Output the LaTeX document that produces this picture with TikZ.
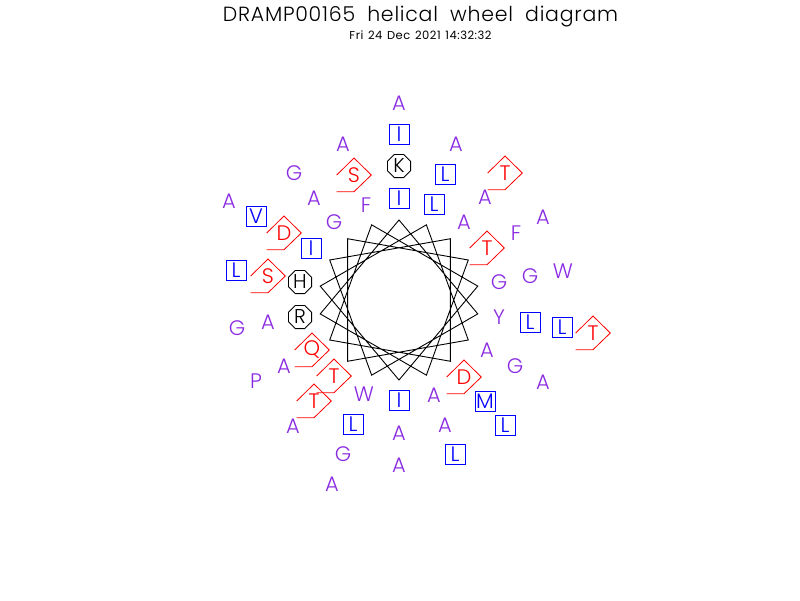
\documentclass[tikz,border=0pt]{standalone}
\usepackage{fontspec}
\usetikzlibrary{shapes.geometric}
\setmainfont{Poppins Light}
\newfontfamily\titlefont[LetterSpace=3.7,WordSpace=1.9]{Poppins Light}
\newfontfamily\stampfont[LetterSpace=4.5,WordSpace=1.3]{Poppins}
\definecolor{respurple}{HTML}{8A2BE2}
\tikzset{
  reslabel/.style={inner sep=0pt,font=\fontsize{21}{21}\selectfont},
  plainres/.style={reslabel,text=respurple},
  boxres/.style={reslabel,text=blue,draw=blue,line width=0.9pt,minimum size=20pt,shape=rectangle,font=\fontsize{21}{21}\selectfont},
  octres/.style={reslabel,text=black,draw=black,line width=0.9pt,shape=regular polygon,regular polygon sides=8,minimum size=25pt,font=\fontsize{20}{20}\selectfont},
  pentres/.style={reslabel,text=red},
  pentline/.style={draw=red,line width=0.8pt},
  starline/.style={draw=black,line width=0.9pt,line join=miter},
}
\newcommand{\plainr}[4]{\node[plainres] (#1) at (#2,#3) {#4};}
\newcommand{\boxr}[4]{\node[boxres] (#1) at (#2,#3) {#4};}
\newcommand{\octr}[4]{\node[octres] (#1) at (#2,#3) {#4};}
\newcommand{\pentr}[4]{\node[pentres] (#1) at (#2,#3) {#4};
  \draw[pentline] ([shift={(-17.3,0)}]#1.center) -- ([shift={(0,-17)}]#1.center) -- ([shift={(17.3,0)}]#1.center) -- ([shift={(0,16.7)}]#1.center) -- ([shift={(-17.3,16.7)}]#1.center);}
\begin{document}
\begin{tikzpicture}[x=1pt,y=-1pt]
\useasboundingbox (0,0) rectangle (800,600);
\node[inner sep=0pt,font=\titlefont\fontsize{20.5}{20.5}\selectfont] (title) at (420.5,17) {DRAMP00165 helical wheel diagram};
\node[inner sep=0pt,font=\stampfont\fontsize{11.5}{11.5}\selectfont] (stamp) at (420.5,35) {Fri 24 Dec 2021 14:32:32};
% star
\foreach \i in {0,...,17}{\coordinate (v\i) at ({399+80*sin(\i*100)},{300-80*cos(\i*100)});}
\draw[starline] (v0) -- (v1) -- (v2) -- (v3) -- (v4) -- (v5) -- (v6) -- (v7) -- (v8) -- (v9) -- (v10) -- (v11) -- (v12) -- (v13) -- (v14) -- (v15) -- (v16) -- (v17) -- cycle;
% residues
\plainr{a1}{399}{103}{A}
\boxr{i1}{399}{134}{I}
\octr{k1}{399}{166}{K}
\boxr{i2}{399}{198}{I}
\plainr{a2}{343}{144}{A}
\pentr{s1}{354}{175}{S}
\plainr{g1}{294}{173}{G}
\plainr{a3}{314}{198}{A}
\plainr{f1}{366}{205}{F}
\plainr{g2}{334}{222}{G}
\plainr{a4}{229}{201}{A}
\boxr{v1r}{256}{216}{V}
\pentr{d1}{284}{233}{D}
\boxr{i3}{311}{248}{I}
\boxr{l1}{236}{270}{L}
\pentr{s2}{268}{276}{S}
\octr{h1}{300}{282}{H}
\plainr{a5}{456}{144}{A}
\boxr{l2}{445}{174}{L}
\boxr{l3}{434}{204}{L}
\pentr{t1}{505}{173}{T}
\plainr{a6}{485}{197}{A}
\plainr{a7}{464}{222}{A}
\plainr{a8}{543}{217}{A}
\plainr{f2}{516}{233}{F}
\pentr{t2}{487}{248}{T}
\plainr{g3}{499}{282}{G}
\plainr{g4}{530}{276}{G}
\plainr{w1}{563}{271}{W}
\octr{r1}{300}{317}{R}
\plainr{g5}{237}{328}{G}
\plainr{a9}{268}{322}{A}
\pentr{q1}{312}{350}{Q}
\plainr{a10}{284}{366}{A}
\pentr{t3}{334}{376}{T}
\plainr{p1}{256}{381}{P}
\pentr{t4}{314}{401}{T}
\plainr{w2}{364}{394}{W}
\boxr{i4}{399}{400}{I}
\boxr{l4}{353}{424}{L}
\plainr{a11}{293}{426}{A}
\plainr{a12}{399}{433}{A}
\plainr{g6}{343}{454}{G}
\plainr{a13}{399}{465}{A}
\plainr{a14}{332}{484}{A}
\plainr{y1}{499}{317}{Y}
\boxr{l5}{530}{322}{L}
\boxr{l6}{562}{327}{L}
\pentr{t5}{593}{333}{T}
\plainr{a15}{487}{350}{A}
\plainr{g7}{515}{366}{G}
\pentr{d2}{464}{377}{D}
\plainr{a16}{543}{382}{A}
\plainr{a17}{434}{395}{A}
\boxr{m1}{485}{401}{M}
\boxr{l7}{505}{425}{L}
\plainr{a18}{445}{425}{A}
\boxr{l8}{455}{454}{L}
\end{tikzpicture}
\end{document}
